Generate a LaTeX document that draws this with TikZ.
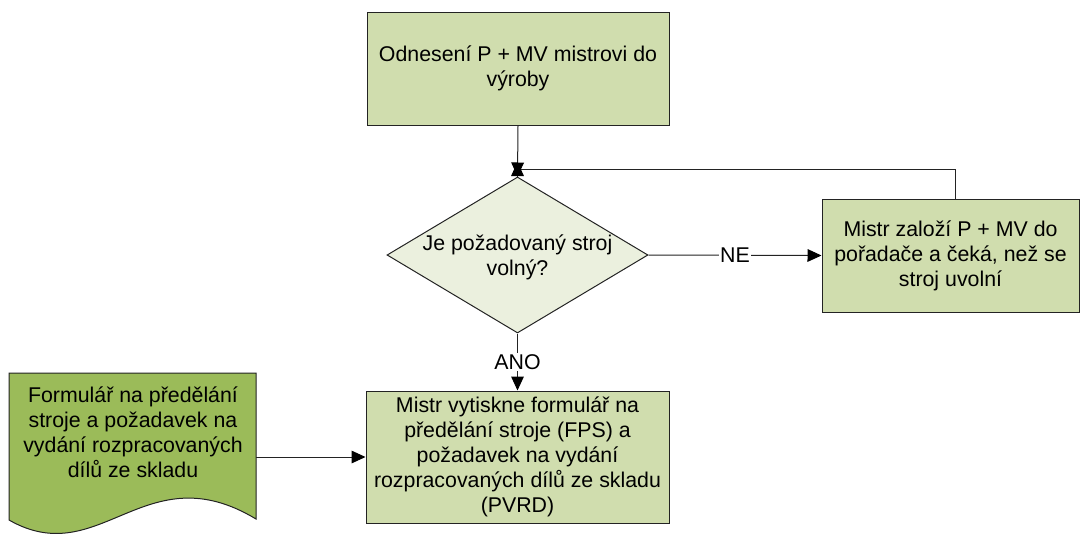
\documentclass[tikz,border=0pt]{standalone}
\usepackage{fontspec}
\setmainfont{Liberation Sans}
\usetikzlibrary{shapes.geometric,arrows.meta}
\definecolor{boxgreen}{RGB}{208,221,174}
\definecolor{decgreen}{RGB}{235,240,222}
\definecolor{docgreen}{RGB}{155,187,89}
\definecolor{edge}{RGB}{35,35,35}
\begin{document}
\begin{tikzpicture}[x=0.75pt,y=-0.75pt,
  every node/.style={font=\fontsize{16}{18.75}\selectfont, text=black},
  box/.style={rectangle, draw=edge, fill=boxgreen, line width=0.75pt, align=center, inner sep=0pt},
  decision/.style={diamond, draw=edge, fill=decgreen, line width=0.75pt, inner sep=0pt},
  line/.style={draw=edge, line width=0.75pt},
  flow/.style={line, -{Triangle[length=10.5pt,width=9.5pt,color=black]}},
  tag/.style={fill=white, inner sep=1pt}]
\useasboundingbox (0,0) rectangle (1081,536);

% process boxes
\node[box, minimum width=226.5pt, minimum height=84.75pt] (top) at (518,68.5)
  {Odnesení P + MV mistrovi do\\výroby};
\node[decision, minimum width=195.75pt, minimum height=117pt] (dia) at (517.5,255) {};
\node[align=center] (diatext) at ([yshift=-1.5pt]dia.center) {Je požadovaný stroj\\volný?};
\node[box, minimum width=192.75pt, minimum height=84.75pt] (rbox) at (950.5,255.5)
  {Mistr založí P + MV do\\pořadače a čeká, než se\\stroj uvolní};
\node[box, minimum width=227.25pt, minimum height=99pt] (bot) at (517.5,457)
  {Mistr vytiskne formulář na\\předělání stroje (FPS) a\\požadavek na vydání\\rozpracovaných dílů ze skladu\\(PVRD)};

% document shape with wavy bottom
\draw[line, fill=docgreen] (9,373) -- (256,373) -- (256,519)
  .. controls (145,452) and (100,572) .. (9,520) -- cycle;
\node[align=center] (doc) at (133,432)
  {Formulář na předělání\\stroje a požadavek na\\vydání rozpracovaných\\dílů ze skladu};
\coordinate (docout) at (256,457);

% connectors
\coordinate (j) at (517.5,169);
\coordinate (fbend) at (517.5,162);
\draw[flow] (top.south) -- (dia.north);
\draw[line] ([xshift=4.1pt]rbox.north) |- (j);
\draw[flow] (dia.north) -- (fbend);
\draw[flow] (dia.east) -- node[tag] {NE} (rbox.west);
\draw[flow] (dia.south) -- node[tag] {ANO} (bot.north);
\draw[flow] (docout) -- (docout -| bot.west);
\end{tikzpicture}
\end{document}
